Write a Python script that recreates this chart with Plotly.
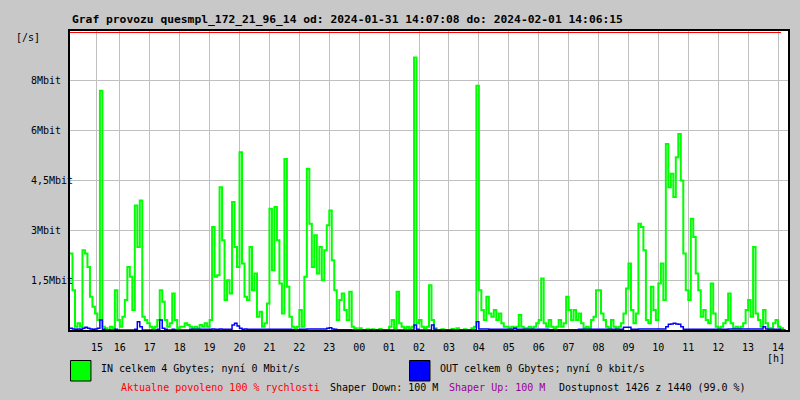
import numpy as np
import plotly.graph_objects as go

# ---- data (5-minute samples, Mbit/s) ----
title_text = "Graf provozu quesmpl_172_21_96_14 od: 2024-01-31 14:07:08 do: 2024-02-01 14:06:15"

in_mbit = [
    2.3, 1.2, 0.1, 0.2, 0.1, 2.4, 2.3, 1.9, 1.0, 0.7, 0.5, 0.3,
    7.2, 0.1, 0.05, 0, 0.1, 0.05, 1.2, 0.3, 0.1, 0.4, 0.9, 1.9,
    1.6, 0.6, 3.75, 2.5, 3.9, 0.4, 0.3, 0.2, 0.1, 0.05, 0.1, 0.3,
    1.2, 0.85, 0.3, 0.1, 0.2, 1.1, 0.3, 0.05, 0.1, 0.1, 0.2, 0.15,
    0.1, 0.05, 0.1, 0.05, 0.15, 0.1, 0.2, 0.1, 0.3, 3.1, 1.6, 1.65,
    4.3, 2.7, 0.9, 1.5, 1.1, 3.85, 2.5, 1.9, 5.35, 2.0, 1.0, 0.9,
    2.5, 1.2, 1.7, 0.4, 0.55, 0.1, 0.2, 0.8, 3.65, 1.8, 3.7, 2.7,
    1.4, 0.5, 5.15, 1.3, 0.4, 0.1, 0.05, 0.1, 0.6, 0.1, 1.6, 4.85,
    3.2, 1.9, 2.85, 1.7, 2.5, 1.5, 2.4, 3.15, 3.6, 2.1, 1.2, 0.3,
    0.9, 1.1, 0.6, 0.3, 1.15, 0.1, 0.05, 0, 0.05, 0, 0, 0.02,
    0, 0.02, 0, 0, 0.03, 0, 0, 0, 0.1, 0.3, 0.05, 1.15,
    0.2, 0.1, 0.05, 0.1, 0.05, 0.1, 8.2, 0.2, 0.3, 0.1, 0.05, 0.1,
    1.35, 0.3, 0.05, 0, 0, 0.02, 0, 0, 0, 0.03, 0, 0.05,
    0, 0, 0.02, 0, 0, 0.05, 0.1, 7.35, 1.2, 0.6, 0.3, 1.0,
    0.5, 0.4, 0.6, 0.3, 0.5, 0.2, 0.1, 0.1, 0.05, 0.1, 0.05, 0.1,
    0.45, 0.1, 0.05, 0.05, 0.1, 0.05, 0.1, 0.2, 0.3, 1.55, 0.2, 0.1,
    0.3, 0.1, 0.05, 0.1, 0.3, 0.1, 0.2, 1.0, 0.6, 0.3, 0.6, 0.3,
    0.5, 0.2, 0.05, 0.1, 0.05, 0.3, 0.4, 1.2, 1.2, 0.5, 0.3, 0.1,
    0.05, 0.3, 0.1, 0.05, 0.1, 0.2, 0.5, 1.25, 2.0, 0.6, 0.2, 0.5,
    3.2, 3.1, 2.4, 0.3, 0.2, 1.3, 0.6, 0.3, 1.4, 2.0, 0.9, 5.6,
    4.3, 4.7, 4.0, 5.2, 5.9, 4.5, 2.3, 1.2, 0.9, 3.35, 2.8, 1.7,
    1.2, 0.4, 0.6, 0.3, 0.2, 1.4, 0.5, 0.1, 0.05, 0.1, 0.2, 0.3,
    1.1, 0.2, 0.05, 0.1, 0.05, 0.1, 0.2, 0.6, 0.9, 0.4, 2.5, 0.5,
    0.3, 0.1, 0.6, 0.2, 0.05, 0.05, 0.2, 0.3, 0.1, 0.05, 0, 0,
]

out_mbit = [
    0.05, 0.03, 0.02, 0.03, 0.02, 0.05, 0.08, 0.05, 0.03, 0.02, 0.03, 0.05,
    0.3, 0.02, 0, 0, 0, 0, 0.02, 0, 0, 0, 0, 0,
    0, 0, 0.02, 0.25, 0.1, 0, 0, 0, 0, 0, 0, 0.02,
    0.3, 0.05, 0.02, 0, 0, 0.02, 0, 0, 0, 0, 0, 0,
    0.02, 0.02, 0.02, 0.02, 0.02, 0.02, 0.02, 0.02, 0.02, 0.03, 0.02, 0.02,
    0.03, 0.02, 0.02, 0.02, 0.02, 0.15, 0.2, 0.12, 0.05, 0.02, 0.03, 0.02,
    0.02, 0.02, 0.02, 0.02, 0.02, 0.02, 0.02, 0.02, 0.02, 0.02, 0.02, 0.02,
    0.02, 0.02, 0.02, 0.02, 0.02, 0.01, 0.01, 0.01, 0.02, 0.02, 0.02, 0.03,
    0.03, 0.03, 0.03, 0.03, 0.03, 0.03, 0.03, 0.05, 0.07, 0.03, 0.02, 0.01,
    0.01, 0.01, 0.01, 0.01, 0.01, 0, 0, 0, 0, 0, 0, 0,
    0, 0, 0, 0, 0, 0, 0, 0, 0, 0, 0, 0,
    0, 0, 0, 0, 0, 0, 0.15, 0.02, 0, 0, 0, 0,
    0, 0.15, 0.02, 0, 0, 0, 0, 0, 0, 0, 0, 0,
    0, 0, 0, 0, 0, 0, 0, 0.25, 0.03, 0.03, 0.03, 0.03,
    0.02, 0.02, 0.02, 0.02, 0.02, 0.02, 0.02, 0.02, 0.02, 0.02, 0.05, 0.02,
    0.02, 0.02, 0.02, 0.02, 0.02, 0.02, 0.02, 0.02, 0.02, 0.02, 0.02, 0.02,
    0.01, 0.01, 0.01, 0.01, 0.01, 0.01, 0.01, 0.01, 0.01, 0.01, 0.01, 0.01,
    0.02, 0.02, 0.02, 0.02, 0.02, 0.02, 0.02, 0.02, 0.02, 0.02, 0.02, 0.02,
    0.02, 0.02, 0.02, 0.02, 0.02, 0.02, 0.08, 0.08, 0.08, 0.02, 0.02, 0.02,
    0.03, 0.03, 0.03, 0.03, 0.03, 0.03, 0.03, 0.03, 0.03, 0.03, 0.03, 0.1,
    0.17, 0.18, 0.2, 0.18, 0.17, 0.1, 0.02, 0.02, 0.02, 0.02, 0.02, 0.02,
    0.02, 0.02, 0.02, 0.02, 0.02, 0.02, 0.02, 0.02, 0.02, 0.02, 0.02, 0.02,
    0.03, 0.03, 0.03, 0.03, 0.03, 0.03, 0.03, 0.03, 0.03, 0.03, 0.03, 0.03,
    0.03, 0.03, 0.1, 0.03, 0.02, 0.02, 0.02, 0.02, 0.02, 0, 0, 0,
]

sample_minutes = list(range(0, 5 * len(in_mbit), 5))

hour_tick_minutes = [54] + [100 + 60 * k for k in range(23)]
hour_tick_labels = ["15", "16", "17", "18", "19", "20", "21", "22", "23", "00", "01", "02",
                    "03", "04", "05", "06", "07", "08", "09", "10", "11", "12", "13", "14"]

y_tick_values = [1.5, 3, 4.5, 6, 7.5]
y_tick_labels = ["1,5Mbit", "3Mbit", "4,5Mbit", "6Mbit", "8Mbit"]

available_minutes = 1426
total_minutes = 1440

in_label = "IN celkem 4 Gbytes; nyní 0 Mbit/s"
out_label = "OUT celkem 0 Gbytes; nyní 0 kbit/s"
footer_parts = [
    ("Aktualne povoleno 100 % rychlosti", "#ff0000", 120),
    ("Shaper Down: 100 M", "#000000", 330),
    ("Shaper Up: 100 M", "#990099", 449),
    ("Dostupnost 1426 z 1440 (99.0 %)", "#000000", 559),
]

# ---- figure ----
W, H = 800, 400
L, R, T, B = 70, 10, 31, 70
PW, PH = W - L - R, H - T - B
FONT = "DejaVu Sans Mono, Liberation Mono, monospace"
BG = "#c8c8c8"


def px_x(px):
    return (px - L) / PW


def px_y(py):
    return (H - B - py) / PH


fig = go.Figure()
fig.add_trace(go.Scatter(x=sample_minutes, y=in_mbit, mode="lines",
                         line=dict(color="#00ff00", width=2, shape="hv"),
                         name="IN", showlegend=False))
fig.add_trace(go.Scatter(x=sample_minutes, y=out_mbit, mode="lines",
                         line=dict(color="#0000ff", width=1.5, shape="hv"),
                         name="OUT", showlegend=False))

fig.update_layout(
    width=W, height=H,
    margin=dict(l=L, r=R, t=T, b=B, pad=0),
    paper_bgcolor=BG, plot_bgcolor="#ffffff",
    font=dict(family=FONT, size=10, color="#000000"),
    showlegend=False,
)
fig.update_xaxes(range=[0, total_minutes], tickvals=hour_tick_minutes, ticktext=hour_tick_labels,
                 showgrid=True, gridcolor="#c0c0c0", gridwidth=1,
                 ticks="outside", ticklen=7, tickcolor=BG,
                 showline=True, linecolor="#000000", linewidth=2, mirror=True,
                 zeroline=False, tickfont=dict(family=FONT, size=10))
fig.update_yaxes(range=[0, 9], tickvals=y_tick_values, showticklabels=False,
                 showgrid=True, gridcolor="#c0c0c0", gridwidth=1,
                 showline=True, linecolor="#000000", linewidth=2, mirror=True,
                 zeroline=False, ticks="")

# red top line (availability)
fig.add_shape(type="line", xref="x", yref="paper", x0=0, x1=available_minutes,
              y0=px_y(32.5), y1=px_y(32.5), line=dict(color="#ff0000", width=1.2))

annotations = []
for v, t in zip(y_tick_values, y_tick_labels):
    annotations.append(dict(x=px_x(29), xref="paper", y=v, yref="y", text=t,
                            xanchor="left", yanchor="middle", showarrow=False,
                            font=dict(family=FONT, size=10, color="#000000")))
annotations.append(dict(x=px_x(70), xref="paper", y=px_y(19), yref="paper", text=title_text,
                        xanchor="left", yanchor="middle", showarrow=False,
                        font=dict(family=FONT, size=11.3, color="#000000", weight="bold")))
annotations.append(dict(x=px_x(14), xref="paper", y=px_y(37), yref="paper", text="[/s]",
                        xanchor="left", yanchor="middle", showarrow=False,
                        font=dict(family=FONT, size=10)))
annotations.append(dict(x=px_x(778), xref="paper", y=px_y(358), yref="paper", text="[h]",
                        xanchor="center", yanchor="middle", showarrow=False,
                        font=dict(family=FONT, size=10)))
annotations.append(dict(x=px_x(99), xref="paper", y=px_y(368), yref="paper", text=in_label,
                        xanchor="left", yanchor="middle", showarrow=False,
                        font=dict(family=FONT, size=10)))
annotations.append(dict(x=px_x(439), xref="paper", y=px_y(368), yref="paper", text=out_label,
                        xanchor="left", yanchor="middle", showarrow=False,
                        font=dict(family=FONT, size=10)))
for text, col, xpx in footer_parts:
    annotations.append(dict(x=px_x(xpx - 1), xref="paper", y=px_y(387), yref="paper", text=text,
                            xanchor="left", yanchor="middle", showarrow=False,
                            font=dict(family=FONT, size=10, color=col)))
fig.update_layout(annotations=annotations)

# legend colour boxes
fig.add_shape(type="rect", xref="paper", yref="paper", x0=px_x(70.5), x1=px_x(91),
              y0=px_y(381), y1=px_y(360.5), fillcolor="#00ff00", line=dict(color="#000000", width=1))
fig.add_shape(type="rect", xref="paper", yref="paper", x0=px_x(410.5), x1=px_x(431),
              y0=px_y(381), y1=px_y(360.5), fillcolor="#0000ff", line=dict(color="#000000", width=1))

fig.write_html("out.html", config=dict(displayModeBar=False),
               post_script="document.body.style.margin='0';document.body.style.padding='0';")
